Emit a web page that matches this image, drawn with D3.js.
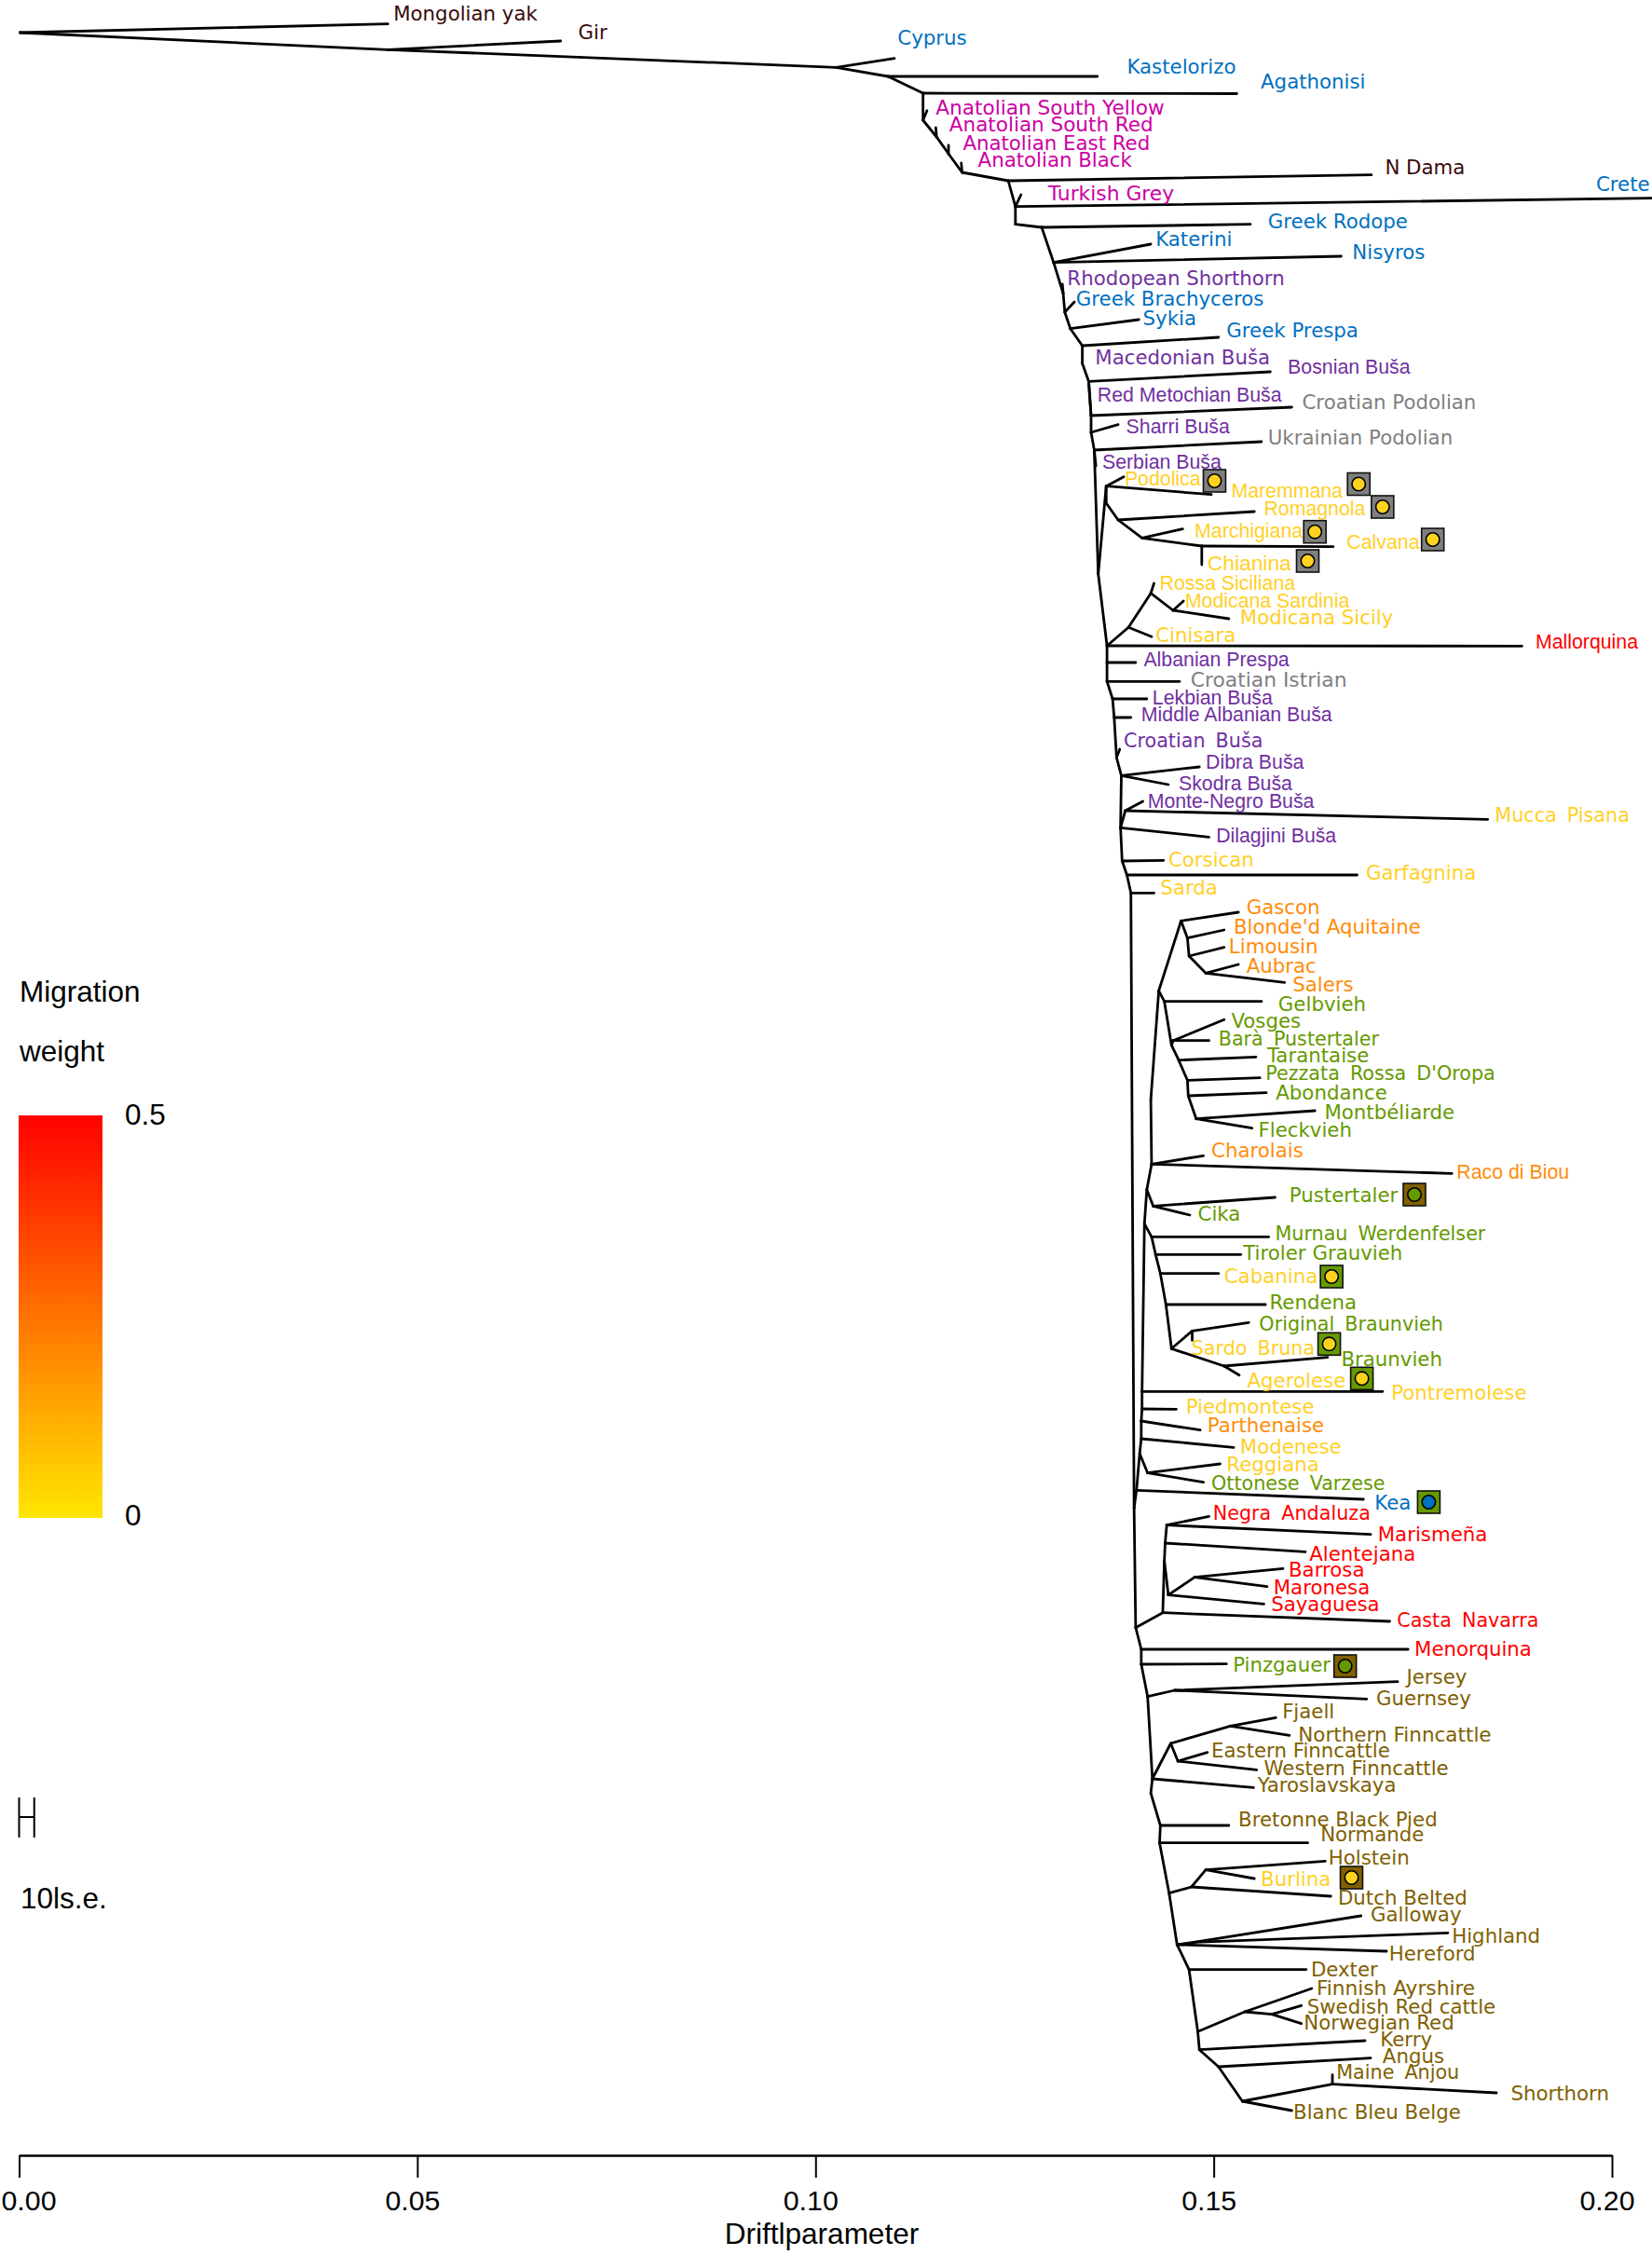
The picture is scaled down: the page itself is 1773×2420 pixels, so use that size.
<!DOCTYPE html>
<html>
<head>
<meta charset="utf-8">
<script src="https://cdn.jsdelivr.net/npm/d3@7"></script>
<style>
html,body{margin:0;padding:0;background:#fff;overflow:hidden}
svg{display:block}
</style>
</head>
<body>
<svg id="chart" width="1773" height="2420"></svg>
<script>
// internal tree nodes: id -> [drift, vertical row]
const nodes = {
n0:[.0001,3.5],n1:[.0463,5.33],n2:[.1026,7.23],n3:[.1091,8.2],n4:[.1135,10],n5:[.1135,12.9],n6:[.1152,14.7],n7:[.1167,16.5],n8:[.1184,18.5],n9:[.1242,19.4],
n10:[.1251,22.17],n11:[.1251,24.07],n12:[.1284,24.4],n13:[.1299,28.17],n14:[.1311,31.5],n15:[.1313,33.5],n16:[.1320,35.27],n17:[.1335,37.1],n18:[.1335,39],n19:[.1343,40.93],
n20:[.1346,44.6],n21:[.1346,46.4],n22:[.1350,48.3],n23:[.1355,61.6],n24:[.1365,52.17],n25:[.1365,54],n26:[.1380,55.8],n27:[.1410,57.73],n28:[.1485,58.6],n29:[.1366,69.3],
n30:[.1393,67.33],n31:[.1421,63.67],n32:[.1449,65.5],n33:[.1366,71.1],n34:[.1366,73.13],n35:[.1373,75],n36:[.1375,77],n37:[.1378,81.3],n38:[.1384,83.23],n39:[.1383,88.83],
n40:[.1389,87],n41:[.1385,92.4],n42:[.1391,93.9],n43:[.1396,95.83],n44:[.1400,161.83],
s1:[.1403,159.93],s2:[.1407,156],s2a:[.1417,158.07],s3:[.1409,154.4],s4:[.1409,152.5],s5:[.1410,151.2],s6:[.1410,149.33],s7:[.1413,131.33],s8:[.1416,127.67],s8a:[.1424,129.43],
s9:[.1422,124.93],s9b:[.1421,118],s10:[.1431,106.33],
m1:[.1422,132.73],m2:[.1427,134.63],m3:[.1433,136.67],m4:[.1440,140],m5:[.1447,144.73],m6:[.1473,142.83],m7:[.1513,146.6],
f1:[.1459,98.83],f2:[.1467,100.67],f3:[.1469,102.6],f4:[.1490,104.43],
g1:[.1438,107.47],g2:[.1447,112.17],g2a:[.1449,111.67],g3:[.1456,113.77],g4:[.1467,115.93],g5:[.1468,117.6],g6:[.1478,120.07],
a1:[.1402,174.67],i1:[.1436,173.07],i2:[.1438,167.5],i3:[.1443,171.17],i4:[.1476,169.27],i5:[.1439,165.6],i6:[.1441,163.67],
a2:[.1409,177],a3:[.1409,178.6],a4:[.1417,182.07],j1:[.1451,181.4],a5:[.1423,190.9],a6:[.1421,192.43],k1:[.1446,187.1],k2:[.1521,185.23],k3:[.1455,189],
a7:[.1433,195.9],a8:[.1432,197.77],a9:[.1444,203.17],h1:[.1472,202.5],h2:[.1490,200.67],a10:[.1454,208.7],b1:[.1475,208.43],a11:[.1469,211.37],a12:[.1480,218.03],
c1:[.1539,215.9],c2:[.1573,216.17],a13:[.1482,219.97],a14:[.1506,221.8],a15:[.1536,225.5],d1:[.1649,223.67]
};

// internal branches
const edges = [
"n0-n1","n1-n2","n2-n3","n3-n4","n4-n5","n5-n6","n6-n7","n7-n8","n8-n9","n9-n10","n10-n11","n11-n12","n12-n13","n13-n14","n14-n15","n15-n16","n16-n17","n17-n18","n18-n19","n19-n20",
"n20-n21","n21-n22","n22-n23","n23-n24","n24-n25","n25-n26","n26-n27","n27-n28","n23-n29","n29-n30","n30-n31","n31-n32","n29-n33","n33-n34","n34-n35","n35-n36","n36-n37","n37-n38","n38-n39","n39-n40",
"n39-n41","n41-n42","n42-n43","n43-n44","n44-s1","s1-s2","s2-s2a","s2-s3","s3-s4","s4-s5","s5-s6","s6-s7","s7-s8","s8-s8a","s8-s9","s9-s9b","s9b-s10","s10-f1","f1-f2","f2-f3","f3-f4",
"s10-g1","g1-g2","g2-g2a","g2-g3","g3-g4","g4-g5","g5-g6","s7-m1","m1-m2","m2-m3","m3-m4","m4-m5","m5-m6","m5-m7",
"n44-a1","a1-i1","i1-i2","i2-i5","i5-i6","i2-i3","i3-i4","a1-a2","a2-a3","a3-a4","a4-j1","a4-a5","a5-a6","a5-k1","k1-k2","k1-k3","a6-a7","a7-a8","a8-a9","a9-h1","h1-h2","a9-a10","a10-b1","a10-a11","a11-a12","a12-c1","c1-c2","a12-a13","a13-a14","a14-a15","a15-d1"
];

// populations: name, group, parent node, tip drift, tip row, label drift, label row
const tips = [
["Mongolian yak","out","n0",.0463,2.57,.0470,1.4],
["Gir","out","n1",.0680,4.4,.0702,3.4],
["Cyprus","blue","n2",.1099,6.27,.1103,4],
["Kastelorizo","blue","n3",.1354,8.2,.1391,7.1],
["Agathonisi","blue","n4",.1529,10.05,.1559,8.7],
["Anatolian South Yellow","magenta","n5",.1140,11.87,.1151,11.5],
["Anatolian South Red","magenta","n6",.1151,13.7,.1168,13.3],
["Anatolian East Red","magenta","n7",.1167,15.6,.1185,15.3],
["Anatolian Black","magenta","n8",.1183,17.5,.1204,17.1],
["N Dama","out","n9",.1698,18.77,.1715,17.9],
["Crete","blue","n10",.2050,21.27,.1980,19.7],
["Turkish Grey","magenta","n10",.1258,20.9,.1292,20.7],
["Greek Rodope","blue","n12",.1546,24.07,.1568,23.7],
["Katerini","blue","n13",.1421,26.2,.1427,25.6],
["Nisyros","blue","n13",.1660,27.5,.1674,27],
["Rhodopean Shorthorn","purple","n14",.1310,30.5,.1316,29.8],
["Greek Brachyceros","blue","n15",.1325,32.4,.1327,32],
["Sykia","blue","n16",.1406,34.3,.1411,34.1],
["Greek Prespa","blue","n17",.1506,36.2,.1516,35.4],
["Macedonian Buša","purple","n18",.1335,39,.1351,38.3],
["Bosnian Buša","purple","n19",.1571,39.9,.1593,39.3],
["Red Metochian Buša","purple","n19",.1346,44.6,.1354,42.3],
["Croatian Podolian","gray","n20",.1598,43.7,.1611,43.1],
["Sharri Buša","purple","n21",.1380,45.57,.1390,45.7],
["Ukrainian Podolian","gray","n22",.1560,47.4,.1568,46.9],
["Serbian Buša","purple","n22",.1352,50,.1360,49.5],
["Podolica","yellow","n24",.1387,51.17,.1388,51.3],
["Maremmana","yellow","n24",.1497,53.07,.1522,52.6],
["Romagnola","yellow","n26",.1551,54.9,.1563,54.5],
["Marchigiana","yellow","n27",.1461,56.77,.1476,56.9],
["Calvana","yellow","n28",.1650,58.67,.1667,58.1],
["Chianina","yellow","n28",.1485,60.6,.1492,60.4],
["Rossa Siciliana","yellow","n31",.1425,62.6,.1432,62.5],
["Modicana Sardinia","yellow","n32",.1462,64.5,.1464,64.4],
["Modicana Sicily","yellow","n32",.1519,66.4,.1533,66.2],
["Cinisara","yellow","n30",.1422,68.33,.1427,68.1],
["Mallorquina","red","n29",.1887,69.33,.1904,68.8],
["Albanian Prespa","purple","n33",.1402,71.1,.1412,70.7],
["Croatian Istrian","gray","n34",.1457,73.13,.1471,72.9],
["Lekbian Buša","purple","n35",.1416,75,.1423,74.8],
["Middle Albanian Buša","purple","n36",.1396,77,.1409,76.6],
["Croatian Buša","purple","n37",.1382,80.4,.1387,79.4],
["Dibra Buša","purple","n38",.1482,82.3,.1490,81.7],
["Skodra Buša","purple","n38",.1443,84.2,.1456,84],
["Monte-Negro Buša","purple","n40",.1411,86,.1417,85.9],
["Mucca Pisana","yellow","n40",.1844,87.93,.1853,87.4],
["Dilagjini Buša","purple","n39",.1494,89.83,.1503,89.6],
["Corsican","yellow","n41",.1437,92.33,.1443,92.2],
["Garfagnina","yellow","n42",.1680,93.9,.1691,93.6],
["Sarda","yellow","n43",.1425,95.83,.1433,95.2],
["Gascon","orange","f1",.1531,97.9,.1541,97.3],
["Blonde'd Aquitaine","orange","f2",.1513,99.8,.1525,99.4],
["Limousin","orange","f3",.1513,101.67,.1519,101.5],
["Aubrac","orange","f4",.1531,103.5,.1541,103.6],
["Salers","orange","f4",.1589,105.43,.1599,105.6],
["Gelbvieh","green","g1",.1560,107.47,.1581,107.7],
["Vosges","green","g2a",.1513,109.43,.1522,109.5],
["Barà Pustertaler","green","g2a",.1494,111.67,.1506,111.4],
["Tarantaise","green","g3",.1553,113.43,.1567,113.2],
["Pezzata Rossa D'Oropa","green","g4",.1558,115.67,.1565,115.1],
["Abondance","green","g5",.1566,117.27,.1578,117.2],
["Montbéliarde","green","g6",.1627,119.2,.1639,119.3],
["Fleckvieh","green","g6",.1548,121.07,.1556,121.2],
["Charolais","orange","s9",.1487,124.03,.1497,123.4],
["Raco di Biou","orange","s9",.1799,125.93,.1805,125.7],
["Pustertaler","green","s8a",.1577,128.5,.1595,128.2],
["Cika","green","s8a",.1470,130.4,.1480,130.2],
["Murnau Werdenfelser","green","m1",.1569,132.73,.1577,132.3],
["Tiroler Grauvieh","green","m2",.1534,134.63,.1537,134.4],
["Cabanina","yellow","m3",.1506,136.67,.1513,136.9],
["Rendena","green","m4",.1565,140,.1570,139.7],
["Original Braunvieh","green","m6",.1544,141.93,.1557,142],
["Sardo Bruna","yellow","m6",.1473,143.83,.1472,144.6],
["Braunvieh","green","m7",.1643,145.67,.1660,145.8],
["Agerolese","yellow","m7",.1532,147.57,.1542,148.1],
["Pontremolese","yellow","s6",.1712,149.33,.1723,149.4],
["Piedmontese","yellow","s5",.1453,151.23,.1465,150.9],
["Parthenaise","orange","s4",.1483,153.47,.1492,152.9],
["Modenese","yellow","s3",.1525,155.33,.1533,155.2],
["Reggiana","yellow","s2a",.1508,157.1,.1516,157.1],
["Ottonese Varzese","green","s2a",.1487,159.07,.1497,159.1],
["Kea","blue","s1",.1688,160.9,.1702,161.2],
["Negra Andaluza","red","i6",.1494,162.73,.1499,162.3],
["Marismeña","red","i6",.1697,164.67,.1706,164.6],
["Alentejana","red","i5",.1615,166.53,.1620,166.7],
["Barrosa","red","i4",.1587,168.33,.1594,168.4],
["Maronesa","red","i4",.1567,170.27,.1575,170.3],
["Sayaguesa","red","i3",.1563,172.13,.1572,172.1],
["Casta Navarra","red","i1",.1721,174,.1730,173.8],
["Menorquina","red","a2",.1744,177,.1752,176.9],
["Pinzgauer","green","a3",.1516,178.57,.1524,178.6],
["Jersey","olive","j1",.1731,180.47,.1742,179.9],
["Guernsey","olive","j1",.1692,182.33,.1704,182.2],
["Fjaell","olive","k2",.1578,184.33,.1586,183.6],
["Northern Finncattle","olive","k2",.1595,186.23,.1606,186.1],
["Eastern Finncattle","olive","k3",.1492,188.07,.1497,187.8],
["Western Finncattle","olive","k3",.1554,189.93,.1563,189.7],
["Yaroslavskaya","olive","a5",.1550,191.83,.1555,191.5],
["Bretonne Black Pied","olive","a7",.1519,195.9,.1531,195.2],
["Normande","olive","a8",.1618,197.77,.1634,196.8],
["Holstein","olive","h2",.1640,199.73,.1644,199.3],
["Burlina","yellow","h2",.1551,201.6,.1559,201.6],
["Dutch Belted","olive","h1",.1647,203.5,.1656,203.6],
["Galloway","olive","b1",.1685,205.6,.1697,205.4],
["Highland","olive","b1",.1794,207.43,.1799,207.7],
["Hereford","olive","a10",.1717,209.4,.1720,209.6],
["Dexter","olive","a11",.1616,211.37,.1622,211.3],
["Finnish Ayrshire","olive","c1",.1623,213.4,.1629,213.3],
["Swedish Red cattle","olive","c2",.1610,215.23,.1617,215.3],
["Norwegian Red","olive","c2",.1610,217.17,.1613,217],
["Kerry","olive","a13",.1690,219,.1709,218.8],
["Angus","olive","a14",.1697,220.87,.1712,220.6],
["Maine Anjou","olive","d1",.1649,222.67,.1654,222.3],
["Shorthorn","olive","d1",.1855,224.6,.1873,224.6],
["Blanc Bleu Belge","olive","a15",.1598,226.5,.1600,226.6]
];

// labels set in Arial-like type in the reference
const arialLabels = ["Bosnian Buša","Red Metochian Buša","Sharri Buša","Serbian Buša","Mallorquina","Albanian Prespa","Lekbian Buša","Middle Albanian Buša","Dibra Buša","Skodra Buša","Monte-Negro Buša","Dilagjini Buša","Raco di Biou","Podolica","Maremmana","Romagnola","Marchigiana","Calvana","Chianina","Rossa Siciliana","Modicana Sardinia"];

// labels with a wide gap between their words
const wideGapLabels = ["Croatian Buša","Mucca Pisana","Barà Pustertaler","Pezzata Rossa D'Oropa","Murnau Werdenfelser","Original Braunvieh","Sardo Bruna","Ottonese Varzese","Negra Andaluza","Casta Navarra","Maine Anjou"];

// labels whose type size departs from the common one
const labelSizes = {"Chianina":22.8,"Anatolian South Yellow":21.6,"Anatolian South Red":21.5,"Turkish Grey":21.8,"Croatian Istrian":21.8,"Finnish Ayrshire":21.7,"Northern Finncattle":21.5};

// migration markers: drift, row, square group, dot group
const migrationMarks = [
[.1501,51.6,"box","yellow"],[.1682,51.95,"box","yellow"],[.1712,54.4,"box","yellow"],[.1627,57.07,"box","yellow"],[.1775,57.9,"box","yellow"],[.1618,60.2,"box","yellow"],
[.1752,128.2,"olive","green"],[.1648,137,"green","yellow"],[.1645,144.23,"green","yellow"],[.1686,147.93,"green","yellow"],
[.1770,161.2,"green","blue"],[.1665,178.8,"olive","green"],[.1673,201.5,"olive","yellow"]
];

const axisTicks = [0,.05,.10,.15,.20];
const weightStops = [0,0.5];
const scaleBarDrift = .0019;

const groupColor = {out:"#3a0a0a",blue:"#0070c0",magenta:"#cc00a3",purple:"#7030a0",gray:"#7f7f7f",yellow:"#ffd028",orange:"#ff8c0a",green:"#669900",red:"#ff0000",olive:"#806000",box:"#7f7f7f"};

const x = d3.scaleLinear().domain([0,.2]).range([20.5,1730]);
const y = d3.scaleLinear().domain([0,242]).range([0,2420]);
const svg = d3.select("#chart");
const LAB = "'DejaVu Sans',sans-serif", ARIAL = "'Liberation Sans',Arial,sans-serif";

// branches
const segs = edges.map(e=>{const [a,b]=e.split("-");return [nodes[a],nodes[b]];})
  .concat(tips.map(t=>[nodes[t[2]],[t[3],t[4]]]));
svg.append("g").attr("stroke","#000").attr("stroke-width",2.8).attr("stroke-linecap","round")
  .selectAll("line").data(segs).join("line")
  .attr("x1",d=>x(d[0][0])).attr("y1",d=>y(d[0][1]))
  .attr("x2",d=>x(d[1][0])).attr("y2",d=>y(d[1][1]));

// labels
svg.append("g").selectAll("text").data(tips).join("text")
  .attr("x",d=>x(d[5])).attr("y",d=>y(d[6])+7.5)
  .attr("font-family",d=>arialLabels.includes(d[0])?ARIAL:LAB)
  .attr("font-size",d=>labelSizes[d[0]]||(wideGapLabels.includes(d[0])?20.7:21.3))
  .attr("word-spacing",d=>wideGapLabels.includes(d[0])?4.5:null)
  .attr("fill",d=>groupColor[d[1]]).text(d=>d[0]);

// migration markers
const mg = svg.append("g").selectAll("g").data(migrationMarks).join("g")
  .attr("transform",d=>`translate(${x(d[0])},${y(d[1])})`);
mg.append("rect").attr("x",-12).attr("y",-12).attr("width",24).attr("height",24)
  .attr("fill",d=>groupColor[d[2]]).attr("stroke","#111").attr("stroke-width",1.6);
mg.append("circle").attr("r",7.2)
  .attr("fill",d=>d[3]==="yellow"?"#ffd21e":groupColor[d[3]]).attr("stroke","#000").attr("stroke-width",1.6);

// axis
const axis = d3.axisBottom(x).tickValues(axisTicks).tickFormat(d3.format(".2f")).tickSize(24).tickSizeOuter(0).tickPadding(13);
const ag = svg.append("g").attr("transform","translate(0,2313)").call(axis);
ag.select(".domain").attr("stroke","#000").attr("stroke-width",2.6);
ag.selectAll(".tick line").attr("stroke","#000").attr("stroke-width",2);
ag.selectAll("text").attr("font-family",ARIAL).attr("font-size",30.3).attr("fill","#000")
  .attr("x",d=>d===0?10:-5.5);
svg.append("text").attr("x",882).attr("y",2408).attr("text-anchor","middle")
  .attr("font-family",ARIAL).attr("font-size",31.5).text("Driftlparameter");

// legend
const legendColor = d3.scaleLinear().domain(weightStops).range(["#ffe600","#ff0000"]);
const defs = svg.append("defs");
const grad = defs.append("linearGradient").attr("id","heat").attr("x1",0).attr("y1",1).attr("x2",0).attr("y2",0);
grad.selectAll("stop").data(weightStops).join("stop")
  .attr("offset",d=>d/weightStops[1]).attr("stop-color",d=>legendColor(d));
const legY = d3.scaleLinear().domain(weightStops).range([1629,1197]);
svg.append("rect").attr("x",20).attr("width",90).attr("y",legY(.5)).attr("height",legY(0)-legY(.5)).attr("fill","url(#heat)");
const legText = [["Migration",21,1075],["weight",21,1139],["0.5",134,1207],["0",134,1637],["10ls.e.",22,2048]];
svg.append("g").selectAll("text").data(legText).join("text")
  .attr("x",d=>d[1]).attr("y",d=>d[2]).attr("font-family",ARIAL).attr("font-size",31.5).attr("fill","#000").text(d=>d[0]);

// scale bar (10 s.e.)
const sb = svg.append("g").attr("stroke","#000").attr("stroke-width",2);
sb.append("line").attr("x1",x(0)).attr("x2",x(scaleBarDrift)).attr("y1",y(195)).attr("y2",y(195));
sb.append("line").attr("x1",x(0)).attr("x2",x(0)).attr("y1",y(192.9)).attr("y2",y(197.2));
sb.append("line").attr("x1",x(scaleBarDrift)).attr("x2",x(scaleBarDrift)).attr("y1",y(192.9)).attr("y2",y(197.2));
</script>
</body>
</html>
